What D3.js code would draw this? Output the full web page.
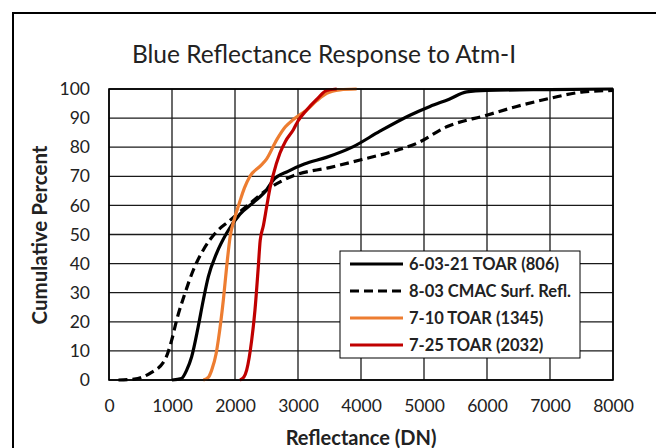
<!DOCTYPE html>
<html>
<head>
<meta charset="utf-8">
<script src="https://cdn.jsdelivr.net/npm/d3@7"></script>
<style>
  html, body { margin: 0; padding: 0; background: #fff; }
  svg { display: block; }
  text { font-family: Lato, "Open Sans", sans-serif; fill: #222; }
</style>
</head>
<body>
<svg id="chart" width="656" height="448"></svg>
<script>
// Cumulative distributions of blue-band reflectance (DN vs. cumulative percent)
const toar0603X = [1000, 1150, 1233, 1312, 1413, 1497, 1577, 1709, 1868, 2079, 2291, 2503, 2600, 2850, 3100, 3450, 3878, 4300, 4777, 5095, 5400, 5677, 6000, 7000, 8000];
const toar0603Y = [0, 0.5, 3.4, 8, 18, 27.5, 35.5, 43.6, 50.5, 57, 61, 65.4, 68.5, 71.8, 74.2, 76.5, 80.2, 85.5, 91, 94, 96.5, 99, 99.5, 99.8, 100];

const cmac0803X = [150, 400, 650, 889, 995, 1074, 1206, 1339, 1497, 1709, 1900, 2200, 2503, 2926, 3500, 3984, 4500, 4883, 5359, 5995, 6471, 7000, 7529, 8000];
const cmac0803Y = [0, 0.3, 2.3, 7, 13.7, 20.6, 29.8, 37.8, 44.7, 51, 54.5, 60, 65.3, 70.2, 73, 75.6, 78.5, 81.3, 87, 91, 94, 96.8, 99, 99.5];

const toar0710X = [1497, 1580, 1630, 1700, 1735, 1815, 1868, 1921, 2000, 2079, 2150, 2238, 2400, 2503, 2661, 2800, 2926, 3138, 3300, 3455, 3667, 3931];
const toar0710Y = [0, 1, 3.4, 9, 13.7, 27.5, 39, 49, 56, 61.5, 66, 70, 73.5, 76, 82.5, 87, 89.5, 92.8, 96, 98.5, 99.7, 100];

const toar0725X = [2079, 2140, 2185, 2265, 2317, 2370, 2400, 2450, 2503, 2556, 2600, 2714, 2800, 2926, 3000, 3138, 3300, 3455, 3614];
const toar0725Y = [0, 1, 3.4, 13.7, 24, 39, 48, 53, 59.6, 66, 70, 78, 82, 86, 89, 92.8, 96.5, 99.5, 100];

const seriesNames = ["6-03-21 TOAR (806)", "8-03 CMAC Surf. Refl.", "7-10 TOAR (1345)", "7-25 TOAR (2032)"];
const xTicks = [0, 1000, 2000, 3000, 4000, 5000, 6000, 7000, 8000];
const yTicks = [0, 10, 20, 30, 40, 50, 60, 70, 80, 90, 100];

const chartTitle = "Blue Reflectance Response to Atm-I";
const xTitle = "Reflectance (DN)";
const yTitle = "Cumulative Percent";

const series = [
  { name: seriesNames[0], xs: toar0603X, ys: toar0603Y, color: "#000000", dash: null },
  { name: seriesNames[1], xs: cmac0803X, ys: cmac0803Y, color: "#000000", dash: "9,5" },
  { name: seriesNames[2], xs: toar0710X, ys: toar0710Y, color: "#ED7D31", dash: null },
  { name: seriesNames[3], xs: toar0725X, ys: toar0725Y, color: "#C00000", dash: null }
];

const svg = d3.select("#chart");
const plot = { left: 109, right: 613, top: 89, bottom: 380 };

// outer chart frame
svg.append("rect")
  .attr("x", 13).attr("y", 13).attr("width", 700).attr("height", 500)
  .attr("fill", "#fff").attr("stroke", "#000").attr("stroke-width", 2);

const x = d3.scaleLinear().domain([0, 8000]).range([plot.left, plot.right]);
const y = d3.scaleLinear().domain([0, 100]).range([plot.bottom, plot.top]);

// gridlines
const grid = svg.append("g");
grid.selectAll("line.v").data(xTicks).join("line")
  .attr("x1", d => x(d)).attr("x2", d => x(d))
  .attr("y1", plot.top).attr("y2", plot.bottom)
  .attr("stroke", "#1a1a1a").attr("stroke-width", 1.3);
grid.selectAll("line.h").data(yTicks).join("line")
  .attr("x1", plot.left).attr("x2", plot.right)
  .attr("y1", d => y(d)).attr("y2", d => y(d))
  .attr("stroke", "#1a1a1a").attr("stroke-width", 1.3);

// axes (labels only)
const yAxis = svg.append("g")
  .attr("transform", `translate(${plot.left},0)`)
  .call(d3.axisLeft(y).tickValues(yTicks).tickSize(0).tickPadding(19));
const xAxis = svg.append("g")
  .attr("transform", `translate(0,${plot.bottom})`)
  .call(d3.axisBottom(x).tickValues(xTicks).tickSize(0).tickPadding(20).tickFormat(d3.format("d")));
[yAxis, xAxis].forEach(g => {
  g.select(".domain").remove();
  g.selectAll("text").attr("font-family", "Lato, sans-serif").attr("font-size", 17.5).attr("fill", "#222");
});

// series
const line = d3.line().curve(d3.curveMonotoneX).x(d => x(d[0])).y(d => y(d[1]));
const lines = svg.append("g");
series.forEach(s => {
  const pts = s.xs.map((v, i) => [v, s.ys[i]]);
  lines.append("path")
    .attr("d", line(pts))
    .attr("fill", "none")
    .attr("stroke", s.color)
    .attr("stroke-width", 3.2)
    .attr("stroke-linejoin", "round")
    .attr("stroke-dasharray", s.dash);
});

// plot border
svg.append("rect")
  .attr("x", plot.left).attr("y", plot.top)
  .attr("width", plot.right - plot.left).attr("height", plot.bottom - plot.top)
  .attr("fill", "none").attr("stroke", "#000").attr("stroke-width", 1.6);

// titles
svg.append("text")
  .attr("x", 324).attr("y", 63).attr("text-anchor", "middle")
  .attr("font-size", 24.5).text(chartTitle);
svg.append("text")
  .attr("x", 361).attr("y", 445).attr("text-anchor", "middle")
  .attr("font-size", 20).attr("font-weight", "bold").text(xTitle);
svg.append("text")
  .attr("transform", "translate(47,235) rotate(-90)").attr("text-anchor", "middle")
  .attr("font-size", 20.5).attr("font-weight", "bold").text(yTitle);

// legend
const lg = svg.append("g");
lg.append("rect")
  .attr("x", 340).attr("y", 251).attr("width", 240).attr("height", 107)
  .attr("fill", "#fff").attr("stroke", "#000").attr("stroke-width", 1);
series.forEach((s, i) => {
  const cy = 264 + i * 27;
  lg.append("line")
    .attr("x1", 350).attr("x2", 403).attr("y1", cy).attr("y2", cy)
    .attr("stroke", s.color).attr("stroke-width", 3.2)
    .attr("stroke-dasharray", s.dash);
  lg.append("text")
    .attr("x", 409).attr("y", cy).attr("dy", "0.35em")
    .attr("font-size", 16.5).attr("font-weight", "bold").text(s.name);
});
</script>
</body>
</html>
